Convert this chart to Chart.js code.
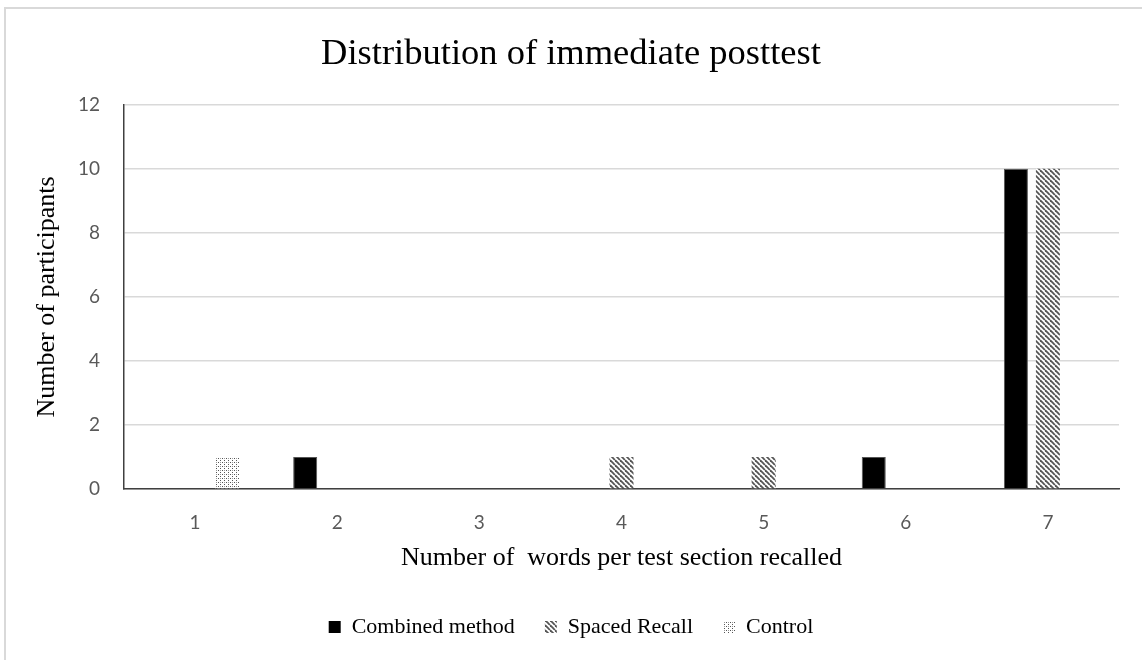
<!DOCTYPE html>
<html>
<head>
<meta charset="utf-8">
<script src="https://cdn.jsdelivr.net/npm/chart.js@4.4.0/dist/chart.umd.min.js"></script>
<style>
  html, body { margin: 0; padding: 0; background: #fff; }
  #wrap { position: relative; width: 1142px; height: 660px; overflow: hidden; }
  #frame { position: absolute; left: 4px; top: 7px; width: 1200px; height: 700px;
           border-left: 2px solid #d9d9d9; border-top: 2px solid #d9d9d9; }
  canvas { position: absolute; left: 0; top: 0; }
</style>
</head>
<body>
<div id="wrap">
  <div id="frame"></div>
  <canvas id="posttestChart" width="1142" height="660"></canvas>
</div>
<script>
// words recalled per test section (x) and number of participants per group
var categories = ["1", "2", "3", "4", "5", "6", "7"];
var combinedCounts = [0, 1, 0, 0, 0, 1, 10];
var spacedCounts = [0, 0, 0, 1, 1, 0, 10];
var controlCounts = [1, 0, 0, 0, 0, 0, 0];
var yTicks = [0, 2, 4, 6, 8, 10, 12];

var serif = "'Liberation Serif', 'Times New Roman', serif";
var sans = "Lato, 'Open Sans', sans-serif";

// diagonal hatch for Spaced Recall
function makeHatch() {
    var size = 5;
    var c = document.createElement("canvas");
    c.width = size; c.height = size;
    var g = c.getContext("2d");
    g.fillStyle = "#ffffff";
    g.fillRect(0, 0, size, size);
    g.strokeStyle = "#555555";
    g.lineWidth = 1.8;
    for (var k = -1; k <= 1; k++) {
        g.beginPath();
        g.moveTo(k * size, 0);
        g.lineTo(k * size + size, size);
        g.stroke();
    }
    return g.createPattern(c, "repeat");
}

// small dot pattern for Control
function makeDots() {
    var c = document.createElement("canvas");
    c.width = 4; c.height = 4;
    var g = c.getContext("2d");
    g.fillStyle = "#ffffff";
    g.fillRect(0, 0, 4, 4);
    g.fillStyle = "#555555";
    g.fillRect(0, 0, 1, 1);
    g.fillRect(2, 2, 1, 1);
    g.fillStyle = "#999999";
    g.fillRect(0, 2, 1, 1);
    return g.createPattern(c, "repeat");
}

var ctx = document.getElementById("posttestChart").getContext("2d");

var posttestChart = new Chart(ctx, {
    type: "bar",
    data: {
        labels: categories,
        datasets: [{
            label: "Combined method",
            data: combinedCounts,
            backgroundColor: "#000000",
            borderColor: "#555555",
            borderWidth: function (c) { return c.raw ? 1 : 0; },
            borderSkipped: "start"
        }, {
            label: "Spaced Recall",
            data: spacedCounts,
            backgroundColor: makeHatch(),
            borderWidth: 0
        }, {
            label: "Control",
            data: controlCounts,
            backgroundColor: makeDots(),
            borderWidth: 0
        }]
    },
    options: {
        responsive: false,
        animation: false,
        layout: { padding: { left: 23, right: 23, top: 0, bottom: 12 } },
        datasets: {
            bar: { categoryPercentage: 0.676, barPercentage: 0.75 }
        },
        plugins: {
            title: {
                display: true,
                text: "Distribution of immediate posttest",
                color: "#000000",
                font: { family: serif, size: 36.5, weight: "normal" },
                padding: { top: 33, bottom: 28 }
            },
            legend: {
                position: "bottom",
                labels: {
                    color: "#000000",
                    font: { family: serif, size: 22 },
                    boxWidth: 12,
                    boxHeight: 12,
                    padding: 30
                }
            },
            tooltip: { enabled: false }
        },
        scales: {
            x: {
                grid: { display: false, drawTicks: false },
                border: { display: true, color: "#404040", width: 1.5 },
                ticks: { color: "#595959", font: { family: sans, size: 19 }, padding: 22 },
                title: {
                    display: true,
                    text: "Number of  words per test section recalled",
                    color: "#000000",
                    font: { family: serif, size: 26 },
                    padding: { top: 0, bottom: 12 }
                },
                afterFit: function (scale) { scale.height = 97; }
            },
            y: {
                min: 0,
                max: 12,
                grid: { color: "#d9d9d9", lineWidth: 1.5, drawTicks: false },
                border: { display: true, color: "#404040", width: 1.5 },
                afterBuildTicks: function (scale) {
                    scale.ticks = yTicks.map(function (v) { return { value: v }; });
                },
                ticks: { color: "#595959", font: { family: sans, size: 19 }, padding: 24 },
                title: {
                    display: true,
                    text: "Number of participants",
                    color: "#000000",
                    font: { family: serif, size: 26 },
                    padding: { top: 9, bottom: 0 }
                },
                afterFit: function (scale) { scale.width = 101; }
            }
        }
    }
});
</script>
</body>
</html>
